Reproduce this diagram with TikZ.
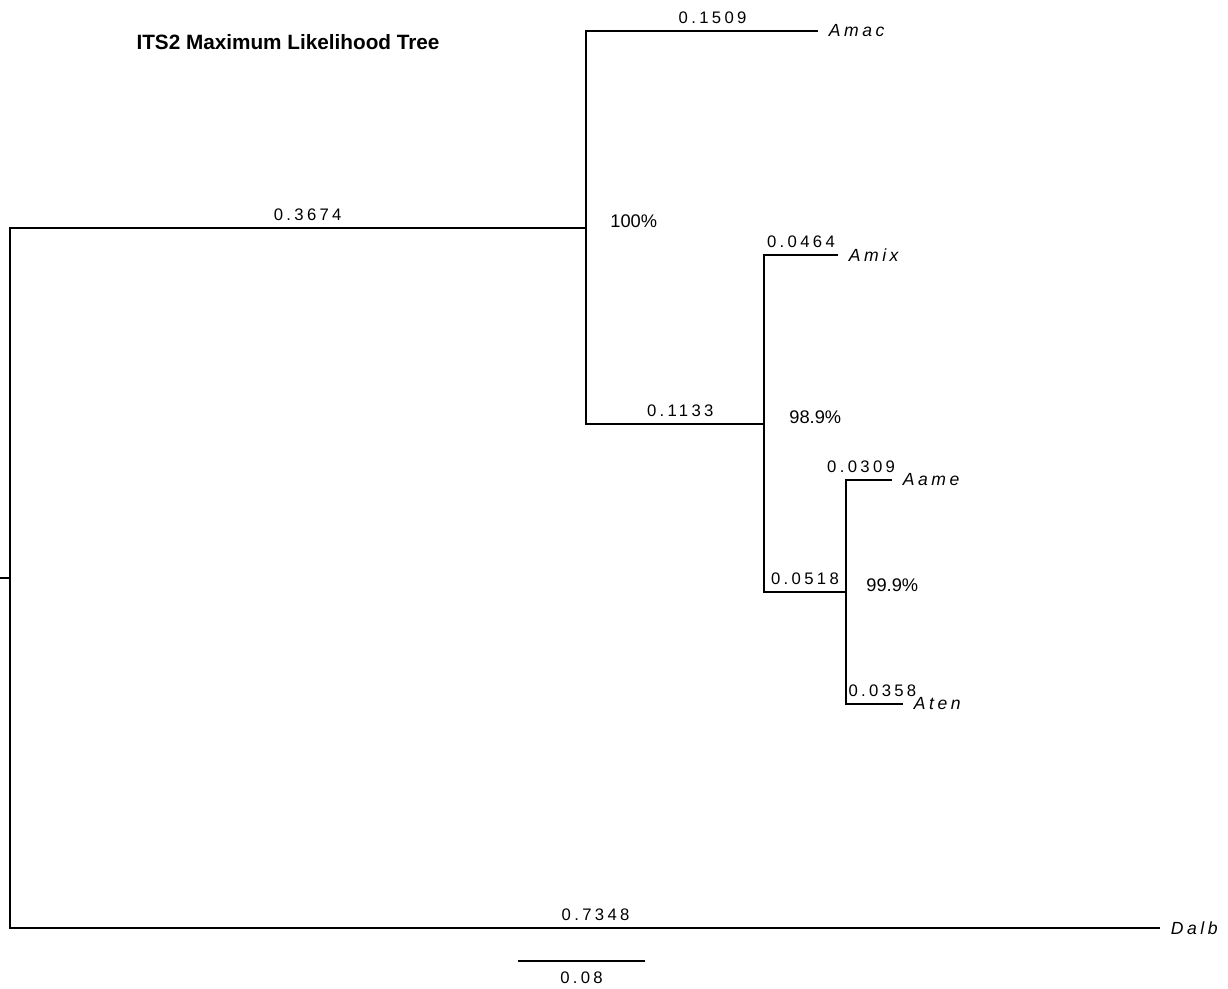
\documentclass[tikz,border=0pt]{standalone}
\usepackage{fontspec}
\setmainfont{Liberation Sans}
\newfontfamily\spacedfont[LetterSpace=20]{Liberation Sans}
\usepackage{tikz}
\usetikzlibrary{positioning,calc}

\begin{document}
\begin{tikzpicture}[x=0.02cm, y=-0.02cm,
  br/.style={line width=0.8pt},
  len/.style={font=\spacedfont\fontsize{9.5}{11}\selectfont, inner sep=3.5pt},
  boot/.style={font=\fontsize{10.4}{12}\selectfont, anchor=west, inner sep=0pt},
  taxon/.style={font=\spacedfont\itshape\fontsize{10}{12}\selectfont,
                anchor=west, inner xsep=6pt, inner ysep=0pt},
  ttl/.style={font=\bfseries\fontsize{11.8}{14}\selectfont}]
\useasboundingbox (0,0) rectangle (1228,989);
\node[ttl] (title) at (288,42) {ITS2 Maximum Likelihood Tree};
\coordinate (stub) at (0,578);
\coordinate (root) at (10,578);
\coordinate (nA) at (586,228);
\coordinate (nB) at (764,424);
\coordinate (nC) at (846,592);
\node[taxon] (Amac) at (818,31) {Amac};
\node[taxon] (Amix) at (838,255) {Amix};
\node[taxon] (Aame) at (892,480) {Aame};
\node[taxon] (Aten) at (903,704) {Aten};
\node[taxon] (Dalb) at (1160,928) {Dalb};
\draw[br] (stub) -- (root);
\draw[br] (root) |- (nA) node[len, above, pos=0.75, xshift=5.5pt]{0.3674};
\draw[br] (root) |- (Dalb.west) node[len, above, pos=0.75, xshift=6pt]{0.7348};
\draw[br] (nA) |- (Amac.west) node[len, above, pos=0.75, xshift=6pt]{0.1509};
\draw[br] (nA) |- (nB) node[len, above, pos=0.75, xshift=3pt]{0.1133};
\draw[br] (nB) |- (Amix.west) node[len, above, pos=0.75]{0.0464};
\draw[br] (nB) |- (nC) node[len, above, pos=0.75]{0.0518};
\draw[br] (nC) |- (Aame.west) node[len, above, pos=0.75, xshift=-4.5pt]{0.0309};
\draw[br] (nC) |- (Aten.west) node[len, above, pos=0.75, xshift=4.5pt]{0.0358};
\node[boot] (bA) at ($(nA)+(24,-7)$) {100\%};
\node[boot] (bB) at ($(nB)+(25,-7)$) {98.9\%};
\node[boot] (bC) at ($(nC)+(20,-7)$) {99.9\%};
\coordinate (sbL) at (518,961);
\coordinate (sbR) at (645,961);
\draw[br] (sbL) -- (sbR) node[len, below, midway, inner sep=6pt] (sb) {0.08};
\end{tikzpicture}
\end{document}
